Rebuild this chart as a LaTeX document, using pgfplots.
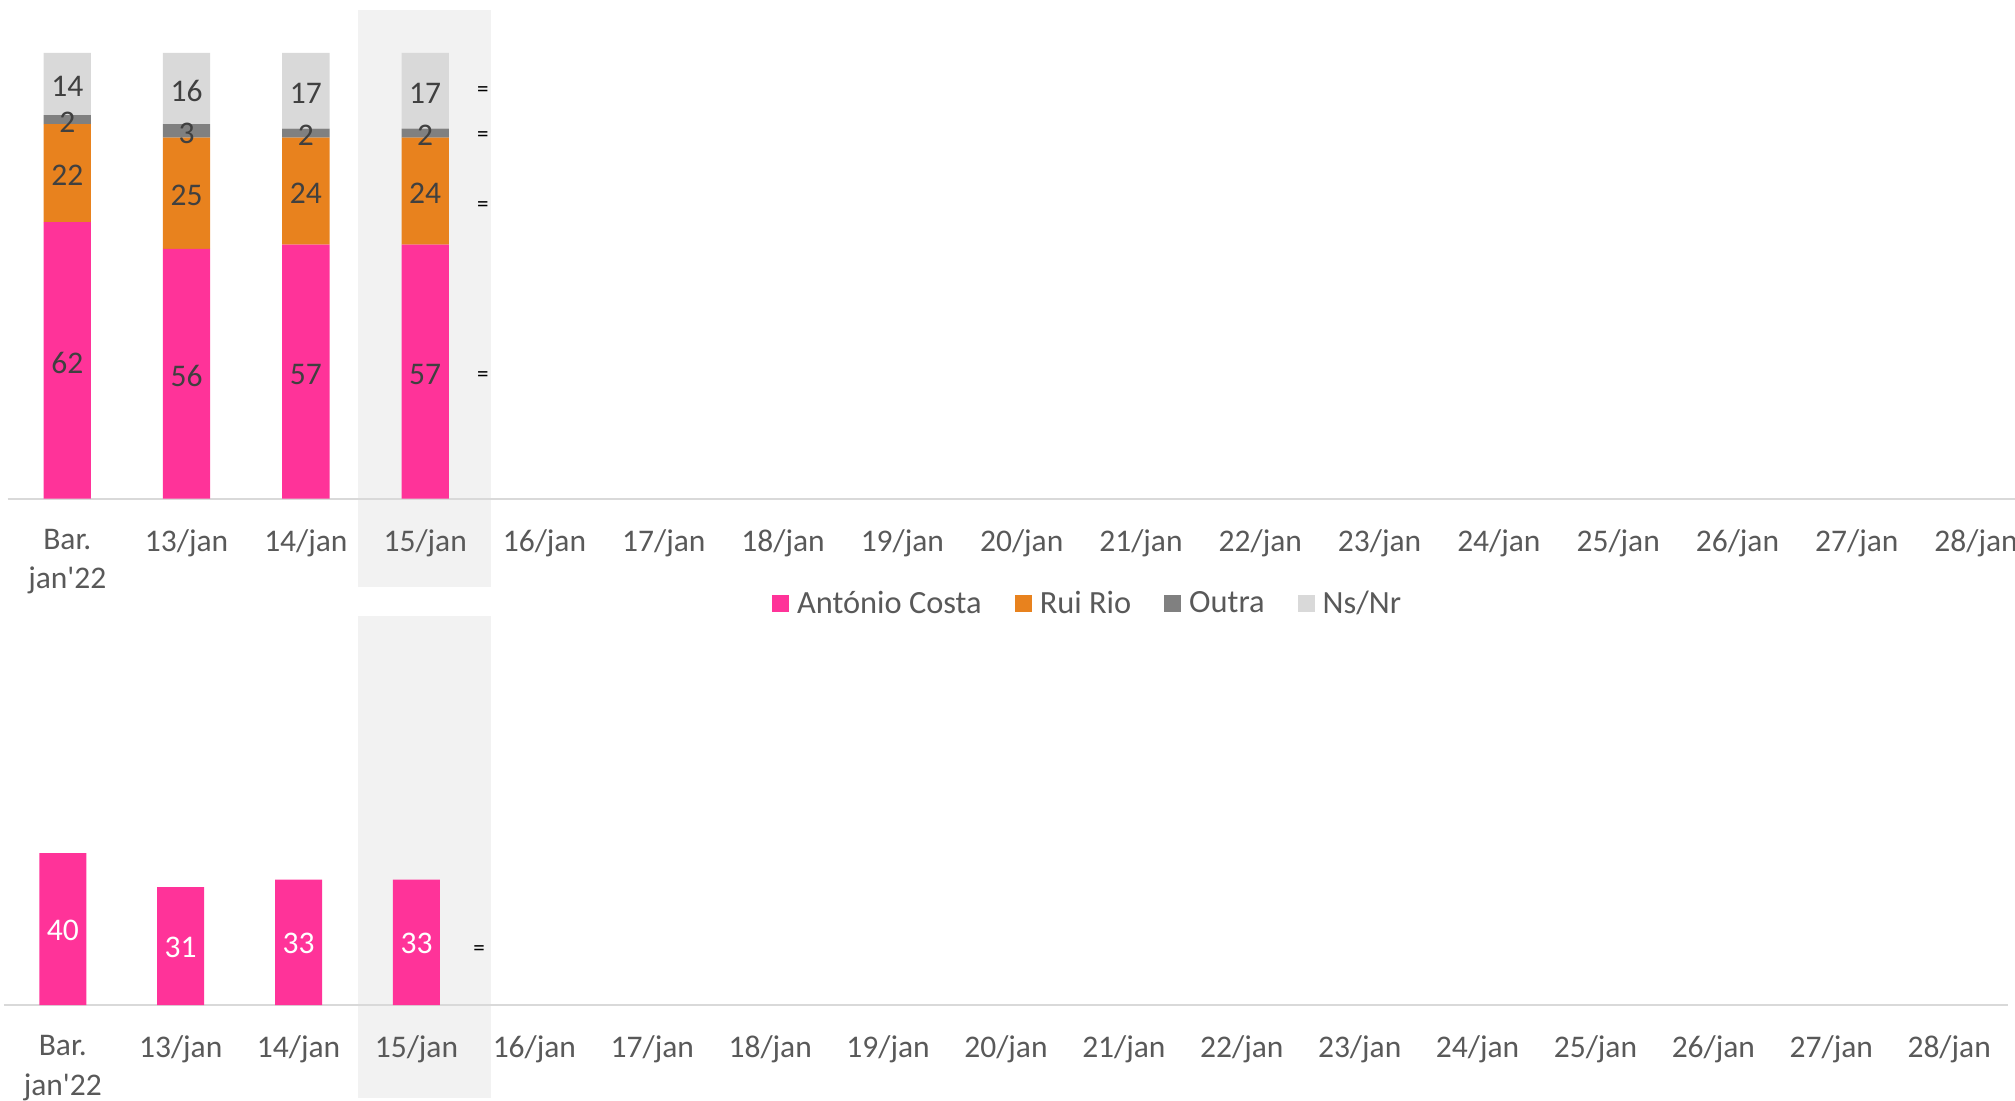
\documentclass[border=0pt]{standalone}
\usepackage{fontspec}
\setmainfont{Carlito}
\usepackage{pgfplots}
\pgfplotsset{compat=1.18}
\definecolor{pinkc}{HTML}{FF3399}
\definecolor{orangec}{HTML}{E8821E}
\definecolor{darkg}{HTML}{808080}
\definecolor{lightg}{HTML}{D9D9D9}
\definecolor{bgc}{HTML}{F2F2F2}
\definecolor{axisc}{HTML}{D9D9D9}
\definecolor{tickc}{HTML}{595959}
\definecolor{labc}{HTML}{404040}
\newcommand{\lf}{\fontsize{15.75}{18.5}\selectfont}
\newcommand{\eqf}{\fontsize{11.5}{13}\selectfont}
\pgfplotsset{
  chartbase/.style={
    scale only axis, anchor=south west,
    xmin=-0.5, xmax=16.5, ymin=0, ymax=100,
    clip=false,
  },
  chartaxis/.style={
    chartbase,
    axis y line=none, axis x line*=bottom,
    x axis line style={axisc, line width=0.9pt, -},
    xtick={0,...,16}, major tick length=0pt,
    xticklabels={{Bar.\\[1.1pt]jan\textquotesingle 22},13/jan,14/jan,15/jan,16/jan,17/jan,18/jan,19/jan,20/jan,21/jan,22/jan,23/jan,24/jan,25/jan,26/jan,27/jan,28/jan},
    xticklabel style={font=\lf, text=tickc, align=center, anchor=north, inner sep=0pt, yshift=-15.1pt},
  },
}
\begin{document}
\begin{tikzpicture}
\path[use as bounding box] (0,0) rectangle (1007.5pt,550pt);
\fill[bgc] (179pt,544.75pt) rectangle (245.5pt,256.75pt);
\fill[bgc] (179pt,242pt) rectangle (245.5pt,1pt);
% ---------------- top chart
\begin{axis}[chartaxis,
  at={(3.825pt,300.65pt)}, width=1014.05pt, height=222.95pt,
  ybar stacked, bar width=23.65pt,
  legend style={at={(0.532,-0.2352)}, anchor=center, draw=none, fill=none,
    legend columns=4, font=\fontsize{16.2}{19}\selectfont, text=tickc, nodes={inner sep=0pt},
    /tikz/every odd column/.append style={column sep=4pt},
    /tikz/every even column/.append style={column sep=16.5pt}},
  legend cell align=left,
  legend image code/.code={\draw[#1,draw=none] (0pt,-4.25pt) rectangle (8.5pt,4.25pt);},
]
\addplot[fill=pinkc, draw=none] coordinates {(0,62) (1,56) (2,57) (3,57)};
\addplot[fill=orangec, draw=none] coordinates {(0,22) (1,25) (2,24) (3,24)};
\addplot[fill=darkg, draw=none] coordinates {(0,2) (1,3) (2,2) (3,2)};
\addplot[fill=lightg, draw=none] coordinates {(0,14) (1,16) (2,17) (3,17)};
\legend{António Costa, Rui Rio, Outra, Ns/Nr}
\node[font=\eqf] at (axis cs:3.484,91.2) {=};
\node[font=\eqf] at (axis cs:3.484,81.2) {=};
\node[font=\eqf] at (axis cs:3.484,65.5) {=};
\node[font=\eqf] at (axis cs:3.484,27.5) {=};
\end{axis}
\begin{axis}[chartbase, hide axis,
  at={(3.825pt,300.65pt)}, width=1014.05pt, height=222.95pt]
\addplot[only marks, mark=none, nodes near coords, point meta=explicit symbolic,
  nodes near coords={\pgfplotspointmeta},
  every node near coord/.style={font=\lf, text=labc, anchor=center, inner sep=0pt, yshift=-1.2pt}]
  coordinates {(0,31)[62] (0,73)[22] (0,85)[2] (0,93)[14]
               (1,28)[56] (1,68.5)[25] (1,82.5)[3] (1,92)[16]
               (2,28.5)[57] (2,69)[24] (2,82)[2] (2,91.5)[17]
               (3,28.5)[57] (3,69)[24] (3,82)[2] (3,91.5)[17]};
\end{axis}
% ---------------- bottom chart
\begin{axis}[chartaxis,
  at={(1.925pt,47.5pt)}, width=1002.15pt, height=190pt]
\addplot[ybar, bar width=23.5pt, fill=pinkc, draw=none] coordinates {(0,40) (1,31) (2,33) (3,33)};
\addplot[only marks, mark=none, nodes near coords, point meta=explicit symbolic,
  nodes near coords={\pgfplotspointmeta},
  every node near coord/.style={font=\lf, text=white, anchor=center, inner sep=0pt, yshift=-0.7pt}]
  coordinates {(0,20)[40] (1,15.5)[31] (2,16.5)[33] (3,16.5)[33]};
\node[font=\eqf] at (axis cs:3.53,14.4) {=};
\end{axis}
\end{tikzpicture}
\end{document}
